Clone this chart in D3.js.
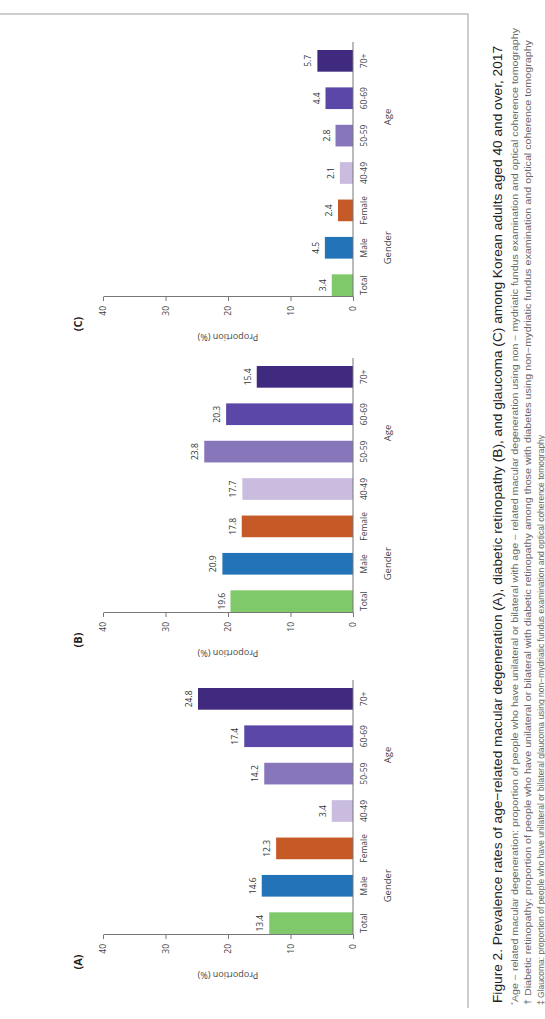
<!DOCTYPE html>
<html>
<head>
<meta charset="utf-8">
<script src="https://cdn.jsdelivr.net/npm/d3@7"></script>
<style>
    body { margin: 0; background: #fff; }
    svg { display: block; }
</style>
</head>
<body>
<svg id="figure"></svg>
<script>
// Data.
const categories = ['Total', 'Male', 'Female', '40-49', '50-59', '60-69', '70+'];
const genderCats = ['Total', 'Male', 'Female'];
const ageCats = ['40-49', '50-59', '60-69', '70+'];
const panelNames = ['(A)', '(B)', '(C)'];
const amdValues = [13.4, 14.6, 12.3, 3.4, 14.2, 17.4, 24.8];
const drValues = [19.6, 20.9, 17.8, 17.7, 23.8, 20.3, 15.4];
const glaucomaValues = [3.4, 4.5, 2.4, 2.1, 2.8, 4.4, 5.7];
const yTicks = [0, 10, 20, 30, 40];
const barColors = ['#80c96b', '#2373b9', '#c65a27', '#c9bcdf', '#8876bb', '#5b47a8', '#3f2a80'];

const captionTitle = 'Figure 2. Prevalence rates of age\u2212related macular degeneration (A), diabetic retinopathy (B), and glaucoma (C) among Korean adults aged 40 and over, 2017';
const footnotes = [
    'Age \u2212 related macular degeneration: proportion of people who have unilateral or bilateral with age \u2212 related macular degeneration using non \u2212 mydriatic fundus examination and optical coherence tomography',
    '\u2020 Diabetic retinopathy: proportion of people who have unilateral or bilateral with diabetic retinopathy among those with diabetes using non\u2212mydriatic fundus examination and optical coherence tomography',
    '\u2021 Glaucoma: proportion of people who have unilateral or bilateral glaucoma using non\u2212mydriatic fundus examination and optical coherence tomography'
];

(function() {

    const W = 545;
    const H = 1019;

    const svg = d3.select('#figure')
        .attr('width', W)
        .attr('height', H);

    // The page is drawn landscape, then turned a quarter to the left.
    const page = svg.append('g')
        .attr('transform', `translate(0, ${H}) rotate(-90)`);

    // Frame (only top and right edges show).
    page.append('path')
        .attr('d', 'M11,468 L1005,468 L1005,-5')
        .attr('fill', 'none')
        .attr('stroke', '#bdbdbd')
        .attr('stroke-width', 1.5);

    const panels = [
        {name: panelNames[0], values: amdValues, x0: 85},
        {name: panelNames[1], values: drValues, x0: 407},
        {name: panelNames[2], values: glaucomaValues, x0: 723},
    ];

    const y = d3.scaleLinear().domain([0, 40]).range([353, 103]);

    panels.forEach(p => {

        const x = d3.scaleBand()
            .domain(categories)
            .range([p.x0, p.x0 + 246])
            .paddingInner(0.42)
            .paddingOuter(0);

        const g = page.append('g');

        // Bars
        g.selectAll('rect')
            .data(p.values)
            .enter()
            .append('rect')
            .attr('x', (d, i) => x(categories[i]))
            .attr('y', d => y(d))
            .attr('width', x.bandwidth())
            .attr('height', d => y(0) - y(d))
            .attr('fill', (d, i) => barColors[i]);

        // Value labels
        g.selectAll('.val')
            .data(p.values)
            .enter()
            .append('text')
            .attr('class', 'val')
            .attr('x', (d, i) => x(categories[i]) + x.bandwidth() / 2)
            .attr('y', d => y(d) - 6)
            .attr('text-anchor', 'middle')
            .attr('font-family', 'Open Sans, sans-serif')
            .attr('font-size', 8.5)
            .attr('fill', '#333')
            .text(d => d.toFixed(1));

        // Y axis
        const yAxis = d3.axisLeft(y).tickValues(yTicks).tickSize(4).tickSizeOuter(0).tickPadding(5);
        const ya = g.append('g')
            .attr('transform', `translate(${p.x0 - 1}, 0)`)
            .call(yAxis);
        ya.select('.domain').attr('stroke', '#777');
        ya.selectAll('.tick line').attr('stroke', '#777');
        ya.selectAll('.tick text')
            .attr('font-family', 'Open Sans, sans-serif')
            .attr('font-size', 8.5)
            .attr('fill', '#444');

        // X axis
        const xAxis = d3.axisBottom(x).tickSize(0).tickPadding(8);
        const xa = g.append('g')
            .attr('transform', `translate(0, ${y(0)})`)
            .call(xAxis);
        xa.select('.domain').remove();
        xa.append('line')
            .attr('x1', p.x0 - 1)
            .attr('x2', p.x0 + 254)
            .attr('stroke', '#777');
        xa.selectAll('.tick text')
            .attr('font-family', 'Open Sans, sans-serif')
            .attr('font-size', 8.5)
            .attr('fill', '#444');

        // Axis title
        g.append('text')
            .attr('transform', `translate(${p.x0 - 38}, ${(y(0) + y(40)) / 2}) rotate(-90)`)
            .attr('text-anchor', 'middle')
            .attr('font-family', 'Open Sans, sans-serif')
            .attr('font-size', 9)
            .attr('fill', '#444')
            .text('Proportion (%)');

        // Group labels
        [['Gender', genderCats], ['Age', ageCats]].forEach(([label, cats]) => {
            const mid = d3.mean(cats, c => x(c) + x.bandwidth() / 2);
            g.append('text')
                .attr('x', mid)
                .attr('y', 391)
                .attr('text-anchor', 'middle')
                .attr('font-family', 'Open Sans, sans-serif')
                .attr('font-size', 9.5)
                .attr('fill', '#444')
                .text(label);
        });

        // Panel letter
        g.append('text')
            .attr('x', p.x0 - 28)
            .attr('y', 82)
            .attr('text-anchor', 'middle')
            .attr('font-family', 'Open Sans, sans-serif')
            .attr('font-weight', 'bold')
            .attr('font-size', 11)
            .attr('fill', '#222')
            .text(p.name);
    });

    // Caption
    page.append('text')
        .attr('x', 16)
        .attr('y', 502)
        .attr('font-family', 'Liberation Sans, Arial, sans-serif')
        .attr('font-size', 13.5)
        .attr('fill', '#222')
        .attr('textLength', 957)
        .attr('lengthAdjust', 'spacingAndGlyphs')
        .text(captionTitle);

    const fn = page.append('g')
        .attr('font-family', 'Liberation Sans, Arial, sans-serif')
        .attr('font-size', 8.5)
        .attr('fill', '#666');

    const fn1 = fn.append('text')
        .attr('x', 14)
        .attr('y', 518)
        .attr('textLength', 977)
        .attr('lengthAdjust', 'spacingAndGlyphs');
    fn1.append('tspan').attr('dy', -3).attr('font-size', 6).text('*');
    fn1.append('tspan').attr('dy', 3).text(footnotes[0]);

    fn.append('text')
        .attr('x', 14)
        .attr('y', 531)
        .attr('textLength', 965)
        .attr('lengthAdjust', 'spacingAndGlyphs')
        .text(footnotes[1]);

    fn.append('text')
        .attr('x', 14)
        .attr('y', 544)
        .text(footnotes[2]);

})();
</script>
</body>
</html>
